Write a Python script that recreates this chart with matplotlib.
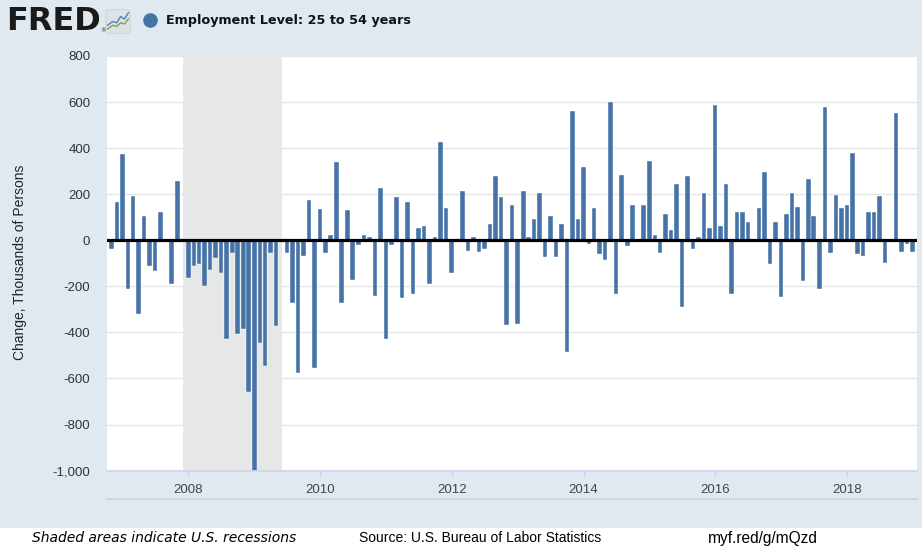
import matplotlib
matplotlib.use("Agg")
import matplotlib.pyplot as plt
import matplotlib.dates as mdates
from matplotlib.patches import Rectangle, FancyBboxPatch
from matplotlib.lines import Line2D
import pandas as pd

# monthly change, thousands of persons (Nov 2006 - Jan 2019)
start_month = "2006-11-01"
changes = [
    -39, 165, 376, -213, 194, -321, 104, -111, -132, 124, -9, -190, 258,
    0, -164, -111, -101, -200, -129, -77, -142, -428, -56, -408, -386,
    -660, -1000, -444, -546, -56, -373, -9, -56, -271, -577, -67, 175, -554,
    135, -56, 23, 339, -271, 132, -172, -19, 23, 13, -240, 226,
    -428, -19, 187, -250, 165, -234, 52, 64, -190, 16, 428, 142, -142, 0,
    214, -46, 13, -49, -39, 71, 278, 187, -368, 152,
    -363, 213, 16, 94, 204, -71, 104, -71, 71, -485, 560, 91, 317, -16,
    142, -59, -87, 602, -234, 285, -26, 155, 0, 152,
    346, 23, -56, 113, 43, 245, -291, 278, -36, 16, 204, 52, 588, 61, 245,
    -234, 124, 124, 80, 0, 142, 295, -101, 80, -245,
    113, 207, 146, -179, 265, 104, -210, 580, -56, 197, 142, 152, 381, -59,
    -68, 124, 124, 194, -97, 0, 554, -49, -16, -49,
]
months = pd.date_range(start_month, periods=len(changes), freq="MS")

recession_start = "2007-12-01"
recession_end = "2009-06-01"

year_ticks = [2008, 2010, 2012, 2014, 2016, 2018]
y_ticks = list(range(-1000, 801, 200))

title = "Employment Level: 25 to 54 years"
y_label = "Change, Thousands of Persons"

bar_color = "#4572a7"
bg_color = "#e1e9f0"
axis_color = "#ccd6eb"

W, H = 922, 550
fig = plt.figure(figsize=(W / 100, H / 100), dpi=100, facecolor=bg_color)

left, right, top, bottom = 107, 916.7, 56, 470.6
ax = fig.add_axes([left / W, 1 - bottom / H, (right - left) / W, (bottom - top) / H])
ax.set_facecolor("white")

ax.axvspan(pd.Timestamp(recession_start), pd.Timestamp(recession_end),
           color="#e6e8e8", zorder=0.5, lw=0)
ax.bar(months, changes, width=25, color=bar_color, edgecolor="white",
       linewidth=0.3, zorder=2)
ax.axhline(0, color="black", lw=2.3, zorder=3)

ax.set_ylim(-1000, 800)
ax.set_xlim(pd.Timestamp("2006-10-07"), pd.Timestamp("2019-01-23"))

ax.set_yticks(y_ticks)
ax.set_yticklabels([f"{v:,}" for v in y_ticks])
ax.yaxis.grid(True, color="#e6e6e6", lw=1.0, zorder=0)
ax.set_axisbelow(True)

ax.set_xticks([pd.Timestamp(f"{y}-01-01") for y in year_ticks])
ax.xaxis.set_major_formatter(mdates.DateFormatter("%Y"))

for side in ["left", "top", "right"]:
    ax.spines[side].set_visible(False)
ax.spines["bottom"].set_color(axis_color)
ax.spines["bottom"].set_linewidth(1.2)

ax.tick_params(axis="y", length=0, pad=12, labelsize=9.5, labelcolor="#333333")
ax.tick_params(axis="x", length=4, width=1, color=axis_color, pad=6,
               labelsize=9.5, labelcolor="#444444")
for lab in ax.get_xticklabels() + ax.get_yticklabels():
    lab.set_family("Liberation Sans")

fig.text(20 / W, 1 - 262 / H, y_label, rotation=90, ha="center", va="center",
         fontsize=10, family="Liberation Sans", color="#222222")

# navigator line under the x labels
fig.add_artist(Line2D([left / W, right / W], [1 - 499 / H] * 2,
                      color=axis_color, lw=1.5))

# footer band
fig.add_artist(Rectangle((0, 0), 1, 22 / H, transform=fig.transFigure,
                         color="white", lw=0))
fy = 1 - 538 / H
fig.text(32 / W, fy, "Shaded areas indicate U.S. recessions", ha="left",
         va="center", fontsize=10, style="italic", family="DejaVu Sans")
fig.text(480 / W, fy, "Source: U.S. Bureau of Labor Statistics", ha="center",
         va="center", fontsize=10, family="Liberation Sans")
fig.text(763 / W, fy, "myf.red/g/mQzd", ha="center", va="center",
         fontsize=11.2, family="Liberation Sans")

# header: logo + legend title
fig.text(6 / W, 1 - 21.5 / H, "FRED", ha="left", va="center", fontsize=23,
         fontweight="heavy", family="DejaVu Sans", color="#1a1a1a")
fig.text(100.5 / W, 1 - 31 / H, "\u00ae", ha="left", va="center", fontsize=4,
         color="#1a1a1a")
icon = fig.add_axes([105 / W, 1 - 34 / H, 26 / W, 25 / H])
icon.set_xlim(0, 1)
icon.set_ylim(0, 1)
icon.axis("off")
icon.add_patch(FancyBboxPatch((0.03, 0.03), 0.94, 0.94,
                              boxstyle="round,pad=0,rounding_size=0.12",
                              fc="#dfe2e4", ec="#c9cdd0", lw=0.5))
icon.plot([0.1, 0.3, 0.45, 0.6, 0.75, 0.9], [0.35, 0.5, 0.45, 0.7, 0.6, 0.85],
          color="#4f7fc0", lw=1)
icon.plot([0.1, 0.3, 0.45, 0.6, 0.75, 0.9], [0.2, 0.35, 0.3, 0.45, 0.4, 0.6],
          color="#7aa84a", lw=1)

fig.add_artist(Line2D([150 / W], [1 - 20 / H], marker="o", markersize=9.5,
                      color=bar_color, lw=0))
fig.text(166 / W, 1 - 20.5 / H, title, ha="left", va="center", fontsize=9.2,
         fontweight="bold", family="DejaVu Sans", color="#111111")

fig.savefig("out.png", dpi=100, facecolor=fig.get_facecolor())
